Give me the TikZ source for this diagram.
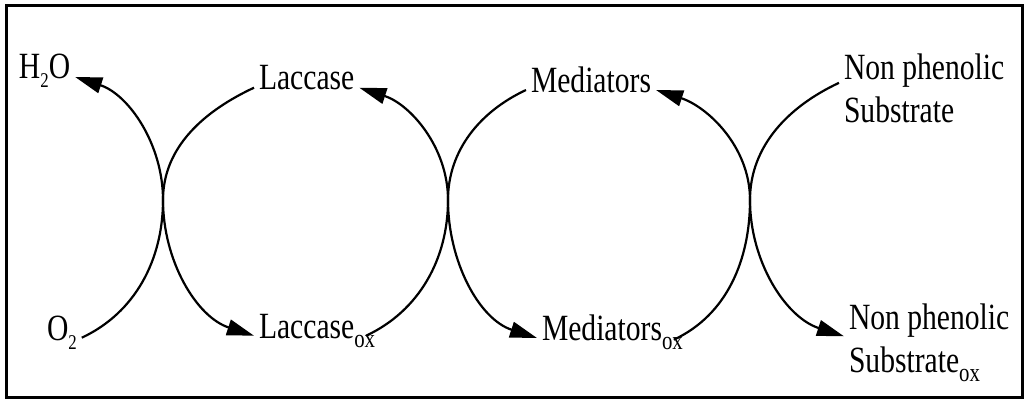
\documentclass[tikz,border=0pt]{standalone}
\usepackage{fontspec}
\setmainfont{Liberation Serif}[FakeStretch=0.8]
\usetikzlibrary{arrows.meta}
\newcommand{\sbs}[2][26]{\raisebox{-9pt}{\fontsize{#1}{#1}\selectfont #2}}

\begin{document}
\begin{tikzpicture}[x=1pt,y=1pt,
  lbl/.style={inner sep=2pt,outer sep=3pt,font=\fontsize{37}{43}\selectfont,align=left},
  cyc/.style={line width=2.2pt,looseness=0.95,-{Triangle[length=27pt,width=16pt]}}]

	\useasboundingbox (0,0) rectangle (1026,400);

	% frame
	\draw[line width=3pt] (6.5,3) rectangle (1022.5,394.5);

	% species
	\node[lbl,anchor=base west] (h2o) at (14,321) {H\sbs[21]{2}O};
	\node[lbl,anchor=base west] (o2) at (42,60) {O\sbs[21]{2}};
	\node[lbl,anchor=base west] (lac) at (254,310) {Laccase};
	\node[lbl,anchor=base west] (lacox) at (254,62) {Laccase\sbs{ox}};
	\node[lbl,anchor=base west] (med) at (526,308) {Mediators};
	\node[lbl,anchor=base west] (medox) at (537,60) {Mediators\sbs{ox}};
	\node[lbl,anchor=base west] (nps) at (839,277) {Non phenolic\\Substrate};
	\node[lbl,anchor=base west] (npsox) at (844,28) {Non phenolic\\Substrate\sbs{ox}};

	% crossing points
	\coordinate (c1) at (163,200);
	\coordinate (c2) at (448,200);
	\coordinate (c3) at (750,200);

	% redox cycles
	\draw[cyc] (o2.mid east) to[out=25,in=-90] (c1) to[out=90,in=-18] ([yshift=2pt]h2o.base east);
	\draw[cyc] (lac.mid west) to[out=205,in=90] (c1) to[out=-90,in=162] (lacox.mid west);
	\draw[cyc] ([xshift=-14pt]lacox.mid east) to[out=25,in=-90] (c2) to[out=90,in=-18] (lac.mid east);
	\draw[cyc] ([yshift=2pt]med.base west) to[out=205,in=90] (c2) to[out=-90,in=162] ([yshift=2pt]medox.base west);
	\draw[cyc] ([shift={(-14pt,-2pt)}]medox.mid east) to[out=25,in=-90] (c3) to[out=90,in=-18] ([yshift=2pt]med.base east);
	\draw[cyc] ([yshift=6pt]nps.west) to[out=205,in=90] (c3) to[out=-90,in=162] ([yshift=6pt]npsox.west);

\end{tikzpicture}
\end{document}
